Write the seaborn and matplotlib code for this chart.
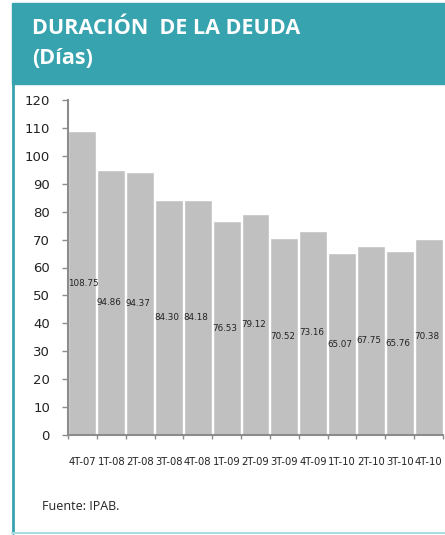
import matplotlib
matplotlib.use("Agg")
import matplotlib.pyplot as plt
from matplotlib.patches import Rectangle
from matplotlib.lines import Line2D
import seaborn as sns
import pandas as pd

# Quarterly debt duration (days)
periods = ["4T-07", "1T-08", "2T-08", "3T-08", "4T-08", "1T-09", "2T-09",
           "3T-09", "4T-09", "1T-10", "2T-10", "3T-10", "4T-10"]
days = [108.75, 94.86, 94.37, 84.30, 84.18, 76.53, 79.12,
        70.52, 73.16, 65.07, 67.75, 65.76, 70.38]

sns.set_theme(style="white")
plt.rcParams["font.family"] = ["DejaVu Sans"]

df = pd.DataFrame({"periodo": periods, "dias": days})

fig = plt.figure(figsize=(4.45, 5.35), dpi=100)
W, H = 445, 535

# Frame: teal header band, teal left rule, light bottom rule
teal = "#36A3AF"
fig.patches.append(Rectangle((12 / W, 1 - 84 / H), 1 - 12 / W, 81 / H,
                             transform=fig.transFigure, color=teal, zorder=0))
fig.lines.append(Line2D([12.5 / W, 12.5 / W], [1 - 84 / H, 1 - 533 / H],
                        transform=fig.transFigure, color=teal, lw=2))
fig.lines.append(Line2D([12 / W, 1], [1 - 532.5 / H, 1 - 532.5 / H],
                        transform=fig.transFigure, color="#A9DCE2", lw=1.5))

fig.text(32 / W, 1 - 29 / H, "DURACIÓN  DE LA DEUDA", color="white",
         fontsize=15.5, fontweight="bold", family="Open Sans", va="center", ha="left")
fig.text(32 / W, 1 - 58 / H, "(Días)", color="white",
         fontsize=15.5, fontweight="bold", family="Open Sans", va="center", ha="left")

fig.text(42 / W, 1 - 507 / H, "Fuente: IPAB.", color="#222222",
         fontsize=9, family="Open Sans", va="center", ha="left")

ax = fig.add_axes([68 / W, 1 - 435 / H, 375 / W, 335 / H])
sns.barplot(data=df, x="periodo", y="dias", ax=ax, color="#C0C0C0",
            saturation=1, width=0.97, edgecolor="white", linewidth=1)

ax.set_xlim(-0.5, len(periods) - 0.5)
ax.set_ylim(0, 120)
ax.set_yticks(range(0, 121, 10))
ax.set_xlabel("")
ax.set_ylabel("")

for s in ["top", "right"]:
    ax.spines[s].set_visible(False)
for s in ["left", "bottom"]:
    ax.spines[s].set_color("#8C8C8C")
    ax.spines[s].set_linewidth(1.5)

ax.tick_params(axis="y", which="major", left=True, length=4, width=1,
               color="#8C8C8C", labelsize=9.5, labelcolor="#222222", pad=9)
ax.tick_params(axis="x", which="major", bottom=False, labelsize=7.2,
               labelcolor="#222222", pad=10)
ax.set_xticks(range(len(periods)))
ax.set_xticklabels(periods)
ax.set_xticks([i - 0.5 for i in range(len(periods) + 1)], minor=True)
ax.tick_params(axis="x", which="minor", bottom=True, length=3, width=1,
               color="#8C8C8C")

# Value labels at half height, aligned to each bar's left edge
for i, v in enumerate(days):
    ax.text(i - 0.5, v / 2, f"{v:.2f}", fontsize=6.3, color="#222222",
            ha="left", va="center")

fig.savefig("out.png", dpi=100)
